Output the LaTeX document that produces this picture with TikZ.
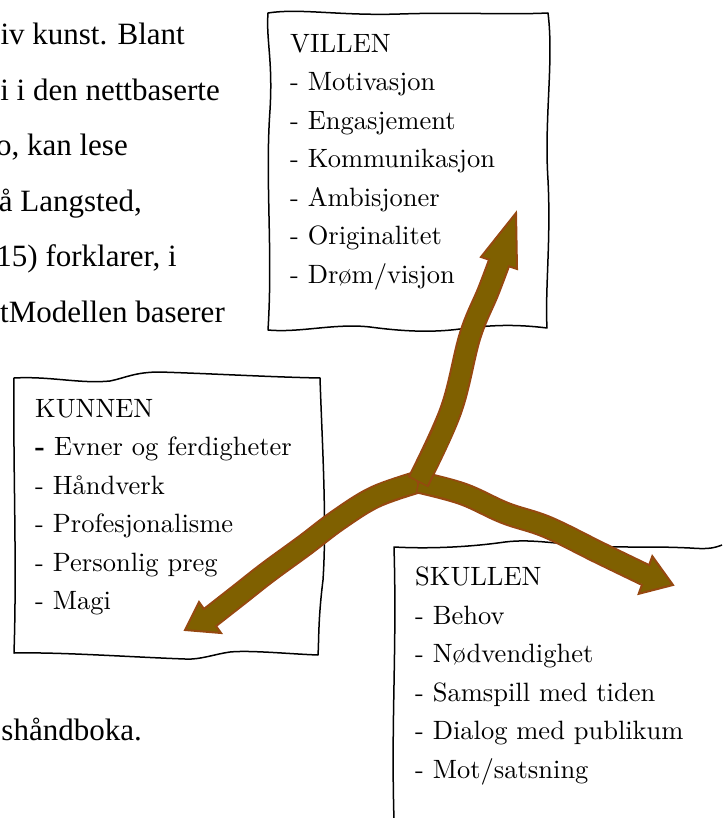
\documentclass[tikz,border=0pt]{standalone}
\usepackage{fontspec}
\newfontfamily\parfont{Liberation Serif}
\newfontfamily\boxfont{lmroman10-regular.otf}[BoldFont=lmroman10-bold.otf]
\definecolor{arrowfill}{RGB}{127,96,0}
\definecolor{arrowedge}{RGB}{150,72,16}

\begin{document}
\begin{tikzpicture}[
  x=1pt, y=-1pt,
  every node/.style={inner sep=0pt},
  frame/.style={draw=black, line width=1.5pt, line join=round},
  boxtext/.style={anchor=north west, align=left, font=\boxfont\fontsize{26.5}{38.5}\selectfont},
  bodytext/.style={anchor=base east, font=\parfont\fontsize{31}{40}\selectfont},
  shaftout/.style={draw=arrowedge, line width=23pt},
  shaftin/.style={draw=arrowfill, line width=19pt, shorten >=-4pt, shorten <=1.5pt},
  arrowhead/.style={fill=arrowfill, draw=arrowedge, line width=2pt, line join=miter}
]
\useasboundingbox (0,0) rectangle (722,818);

% running text beside the figure
\node[bodytext] (line1) at (185,45) {iv kunst. Blant};
\node[bodytext] (line2) at (220,100.4) {i i den nettbaserte};
\node[bodytext] (line3) at (128,155.8) {o, kan lese};
\node[bodytext] (line4) at (142,211.2) {å Langsted,};
\node[bodytext] (line5) at (177,266.6) {15) forklarer, i};
\node[bodytext] (line6) at (225,322) {tModellen baserer};
\node[bodytext] (line7) at (142,740) {shåndboka.};

% sketched frames
\draw[frame] (268,13) .. controls (300,8) and (340,16) .. (400,14)
  .. controls (460,12) and (505,15) .. (548,13)
  .. controls (554,60) and (544,120) .. (548,180)
  .. controls (551,240) and (545,290) .. (547,328)
  .. controls (515,324) and (490,325) .. (460,329)
  .. controls (430,333) and (400,331) .. (370,327)
  .. controls (335,323) and (300,333) .. (268,330)
  .. controls (273,250) and (265,180) .. (270,110)
  .. controls (273,60) and (266,40) .. cycle;
\draw[frame] (14,378) .. controls (50,376) and (80,384) .. (110,381)
  .. controls (125,378) and (135,372) .. (160,372)
  .. controls (220,374) and (270,377) .. (320,378)
  .. controls (322,440) and (327,520) .. (323,580)
  .. controls (318,620) and (319,640) .. (318,655)
  .. controls (290,654) and (250,650) .. (230,652)
  .. controls (215,654) and (200,660) .. (185,659)
  .. controls (130,657) and (60,652) .. (14,653)
  .. controls (17,560) and (13,470) .. cycle;
\draw[frame] (722,545) .. controls (712,549) and (705,549) .. (690,548)
  .. controls (650,546) and (620,548) .. (590,546)
  .. controls (550,543) and (530,539) .. (505,542)
  .. controls (470,547) and (430,549) .. (394,547)
  .. controls (397,650) and (391,720) .. (394,820);

% box texts
\node[boxtext] (villen) at (290,33.9) {VILLEN\\- Motivasjon\\- Engasjement\\- Kommunikasjon\\- Ambisjoner\\- Originalitet\\- Drøm/visjon};
\node[boxtext] (kunnen) at (35,398.9) {KUNNEN\\\textbf{-} Evner og ferdigheter\\- Håndverk\\- Profesjonalisme\\- Personlig preg\\- Magi};
\node[boxtext] (skullen) at (415,566.9) {SKULLEN\\- Behov\\- Nødvendighet\\- Samspill med tiden\\- Dialog med publikum\\- Mot/satsning};

% arrows out of the hub
\coordinate (hub) at (418,482);
\coordinate (kbase) at (210,617.5);
\coordinate (ktip) at (185,630);
\coordinate (sbase) at (645.5,575);
\coordinate (stip) at (673,585);
\coordinate (vbase) at (499,263);
\coordinate (vtip) at (516,213);

\filldraw[arrowhead] (ktip) -- (221,633) -- (216,626) -- (204,609) -- (199,602) -- cycle;
\foreach \s in {shaftout,shaftin}
  \draw[\s] plot[smooth, tension=0.6] coordinates {(hub) (375,497) (338,520) (305,545) (268,572) (240,594) (kbase)};

\filldraw[arrowhead] (stip) -- (638.7,593.8) -- (641.4,586.3) -- (649.6,563.7) -- (652.3,556.2) -- cycle;
\foreach \s in {shaftout,shaftin}
  \draw[\s] plot[smooth, tension=0.6] coordinates {(hub) (463,494) (505,513) (547,527) (600,553) (sbase)};

\filldraw[arrowhead] (vtip) -- (517,269) -- (510.4,266.8) -- (487.6,259.2) -- (481,257) -- cycle;
\foreach \s in {shaftout,shaftin}
  \draw[\s] plot[smooth, tension=0.6] coordinates {(hub) (451,410) (470,336) (488,292) (vbase)};

\end{tikzpicture}
\end{document}
